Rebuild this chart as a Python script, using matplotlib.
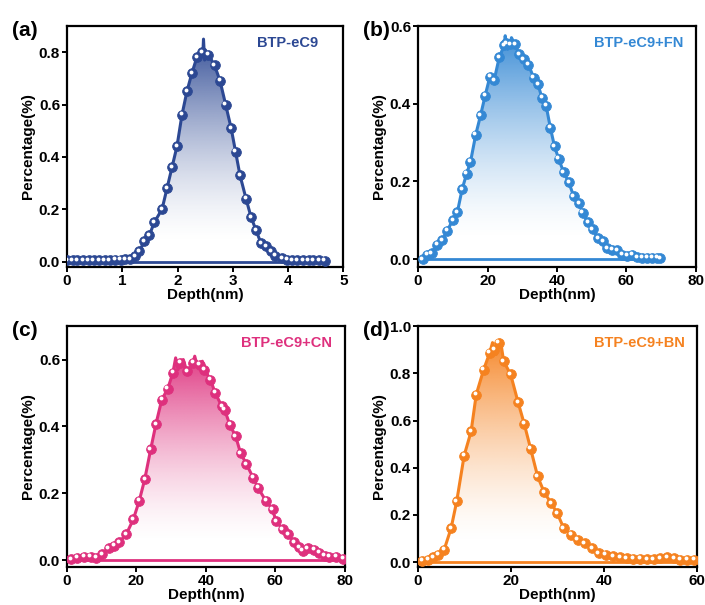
import numpy as np
import matplotlib
matplotlib.use("Agg")
import matplotlib.pyplot as plt
import matplotlib.transforms as mtransforms
from matplotlib.colors import to_rgb

plt.rcParams['font.family'] = ['Liberation Sans', 'DejaVu Sans']
plt.rcParams['font.weight'] = 'bold'

# (a) BTP-eC9
a_x = [0.00, 0.10, 0.19, 0.29, 0.39, 0.48, 0.58, 0.68, 0.77, 0.87, 0.97, 1.05,
       1.14, 1.23, 1.31, 1.40, 1.49, 1.58, 1.72, 1.81, 1.90, 1.99, 2.08, 2.17,
       2.26, 2.35, 2.45, 2.56, 2.67, 2.77, 2.87, 2.97, 3.05, 3.13, 3.24, 3.33,
       3.42, 3.51, 3.60, 3.69, 3.77, 3.89, 3.98, 4.08, 4.17, 4.27, 4.37, 4.46,
       4.56, 4.66]
a_y = [0.005, 0.005, 0.005, 0.005, 0.005, 0.005, 0.005, 0.005, 0.005, 0.006, 0.007, 0.008,
       0.009, 0.020, 0.040, 0.077, 0.100, 0.150, 0.200, 0.280, 0.360, 0.440, 0.560, 0.650,
       0.720, 0.780, 0.800, 0.790, 0.750, 0.690, 0.600, 0.510, 0.420, 0.330, 0.240, 0.170,
       0.120, 0.070, 0.058, 0.040, 0.023, 0.013, 0.006, 0.005, 0.005, 0.005, 0.005, 0.005,
       0.005, 0.004]
a_spike_x = [2.46, 2.47, 2.49]
a_spike_y = [0.80, 0.85, 0.77]

# (b) BTP-eC9+FN
b_x = [1.3, 2.6, 3.9, 5.5, 7.0, 8.4, 10.0, 11.3, 12.7, 14.0, 15.1, 16.6, 18.0, 19.3,
       20.7, 21.9, 23.4, 24.8, 25.4, 26.5, 27.9, 29.1, 30.4, 31.8, 33.3, 34.5, 35.7,
       36.9, 38.1, 39.3, 40.5, 41.9, 43.4, 44.8, 46.3, 47.4, 48.9, 50.3, 51.8, 53.2,
       54.5, 55.9, 57.3, 58.8, 60.2, 61.7, 63.1, 64.6, 66.0, 67.5, 68.9, 69.8]
b_y = [0.000, 0.011, 0.015, 0.037, 0.048, 0.073, 0.100, 0.120, 0.180, 0.220, 0.250,
       0.320, 0.370, 0.420, 0.470, 0.460, 0.520, 0.550, 0.555, 0.553, 0.553, 0.527,
       0.514, 0.500, 0.467, 0.450, 0.415, 0.394, 0.338, 0.290, 0.258, 0.224, 0.198,
       0.162, 0.144, 0.119, 0.095, 0.077, 0.054, 0.046, 0.028, 0.024, 0.022, 0.011,
       0.009, 0.011, 0.004, 0.003, 0.003, 0.003, 0.003, 0.002]
b_spike_x = [25.1, 25.8, 26.9, 28.3]
b_spike_y = [0.575, 0.540, 0.570, 0.545]

# (c) BTP-eC9+CN
c_x = [1.2, 2.9, 5.0, 6.8, 8.4, 10.2, 12.0, 13.5, 15.0, 17.1, 19.1, 20.8, 22.4, 24.1,
       25.6, 27.3, 29.0, 30.5, 32.6, 34.5, 36.3, 38.2, 39.6, 41.3, 42.7, 44.6, 45.4,
       46.9, 48.6, 50.0, 51.7, 53.6, 55.0, 57.3, 59.2, 60.2, 62.1, 63.7, 65.5, 66.9,
       67.9, 69.3, 71.1, 72.7, 74.2, 75.6, 77.6, 79.5]
c_y = [0.003, 0.008, 0.010, 0.010, 0.008, 0.018, 0.035, 0.043, 0.053, 0.078, 0.122,
       0.177, 0.242, 0.331, 0.406, 0.480, 0.512, 0.560, 0.590, 0.565, 0.590, 0.585,
       0.570, 0.540, 0.500, 0.460, 0.450, 0.405, 0.370, 0.320, 0.287, 0.247, 0.217,
       0.177, 0.152, 0.117, 0.093, 0.078, 0.053, 0.038, 0.028, 0.035, 0.031, 0.023,
       0.013, 0.011, 0.011, 0.005]
c_spike_x = [31.3, 32.0, 33.5, 35.5, 36.8, 37.5, 39.0]
c_spike_y = [0.605, 0.570, 0.600, 0.575, 0.610, 0.580, 0.595]

# (d) BTP-eC9+BN
d_x = [0.9, 2.2, 3.3, 4.3, 5.6, 7.1, 8.3, 9.9, 11.4, 12.5, 14.1, 15.4, 16.4, 17.3,
       18.4, 19.9, 21.5, 22.8, 24.2, 25.7, 27.1, 28.6, 29.9, 31.3, 32.9, 34.3, 35.8,
       37.4, 38.8, 40.3, 41.9, 43.4, 44.8, 46.3, 47.7, 49.2, 50.6, 52.1, 53.5, 55.0,
       56.4, 57.8, 59.3]
d_y = [0.006, 0.010, 0.020, 0.031, 0.052, 0.144, 0.257, 0.451, 0.554, 0.710, 0.816,
       0.887, 0.900, 0.929, 0.851, 0.795, 0.677, 0.587, 0.480, 0.363, 0.296, 0.250,
       0.208, 0.144, 0.116, 0.095, 0.081, 0.059, 0.038, 0.031, 0.024, 0.020, 0.017,
       0.014, 0.014, 0.013, 0.013, 0.016, 0.020, 0.016, 0.010, 0.010, 0.010]
d_spike_x = [16.0, 16.8, 17.7]
d_spike_y = [0.930, 0.880, 0.940]

panels = [
    ('(a)', 'BTP-eC9', '#2C4893', a_x, a_y, a_spike_x, a_spike_y, (0, 5), (-0.02, 0.90),
     [0, 1, 2, 3, 4, 5], [0.0, 0.2, 0.4, 0.6, 0.8], 0.91),
    ('(b)', 'BTP-eC9+FN', '#3488D4', b_x, b_y, b_spike_x, b_spike_y, (0, 80), (-0.02, 0.60),
     [0, 20, 40, 60, 80], [0.0, 0.2, 0.4, 0.6], 0.955),
    ('(c)', 'BTP-eC9+CN', '#DE307D', c_x, c_y, c_spike_x, c_spike_y, (0, 80), (-0.02, 0.70),
     [0, 20, 40, 60, 80], [0.0, 0.2, 0.4, 0.6], 0.955),
    ('(d)', 'BTP-eC9+BN', '#F58220', d_x, d_y, d_spike_x, d_spike_y, (0, 60), (-0.02, 1.00),
     [0, 20, 40, 60], [0.0, 0.2, 0.4, 0.6, 0.8, 1.0], 0.955),
]

boxes = [
    [0.095, 0.559, 0.392, 0.398],
    [0.593, 0.559, 0.394, 0.398],
    [0.095, 0.063, 0.394, 0.398],
    [0.593, 0.063, 0.396, 0.398],
]

fig = plt.figure(figsize=(7.05, 6.05), dpi=100)

for box, (tag, name, color, x, y, sx, sy, xlim, ylim, xt, yt, lx) in zip(boxes, panels):
    ax = fig.add_axes(box)
    lx_all = np.array(list(x) + list(sx))
    ly_all = np.array(list(y) + list(sy))
    order = np.argsort(lx_all)
    lx_all, ly_all = lx_all[order], ly_all[order]

    # gradient fill under the curve: full colour at the peak, white near the base
    poly = ax.fill_between(lx_all, ly_all, 0, facecolor='none', edgecolor='none')
    ymax = ly_all.max()
    n = 256
    t = np.linspace(0, 1, n)
    rgba = np.zeros((n, 1, 4))
    rgba[..., :3] = to_rgb(color)
    rgba[..., 3] = (np.clip((t - 0.08) / 0.92, 0, 1) ** 1.5)[:, None] * 0.95
    im = ax.imshow(rgba, extent=[lx_all.min(), lx_all.max(), 0, ymax],
                   origin='lower', aspect='auto', zorder=1, interpolation='bilinear')
    im.set_clip_path(poly.get_paths()[0], transform=ax.transData)

    # baseline and curve
    ax.plot([0, lx_all.max()], [0, 0], color=color, lw=2.0, zorder=2)
    ax.plot(lx_all, ly_all, color=color, lw=2.2, zorder=3)
    ax.plot(x, y, 'o', ms=7.0, mfc=color, mec=color, mew=0.6, zorder=4)
    hl = ax.transData + mtransforms.ScaledTranslation(-0.9 / 72, 1.1 / 72, fig.dpi_scale_trans)
    ax.plot(x, y, 'o', ms=2.8, mfc='white', mec='none', transform=hl, zorder=5)

    ax.set_xlim(*xlim)
    ax.set_ylim(*ylim)
    ax.set_xticks(xt)
    ax.set_yticks(yt)
    ax.set_yticklabels([f'{v:.1f}' for v in yt])
    for sp in ax.spines.values():
        sp.set_linewidth(1.6)
    ax.tick_params(direction='out', length=3.5, width=1.4, labelsize=11, pad=1.5)
    ax.set_xlabel('Depth(nm)', fontsize=11, fontweight='bold', labelpad=0)
    ax.set_ylabel('Percentage(%)', fontsize=11, fontweight='bold', labelpad=3)
    ax.text(lx, 0.93, name, transform=ax.transAxes, ha='right', va='center',
            color=color, fontsize=10.5, fontweight='bold')
    fig.text(box[0] - 0.078, box[1] + box[3] - 0.008, tag, fontsize=15,
             fontweight='bold', ha='left', va='center')

fig.savefig('out.png', dpi=100)
